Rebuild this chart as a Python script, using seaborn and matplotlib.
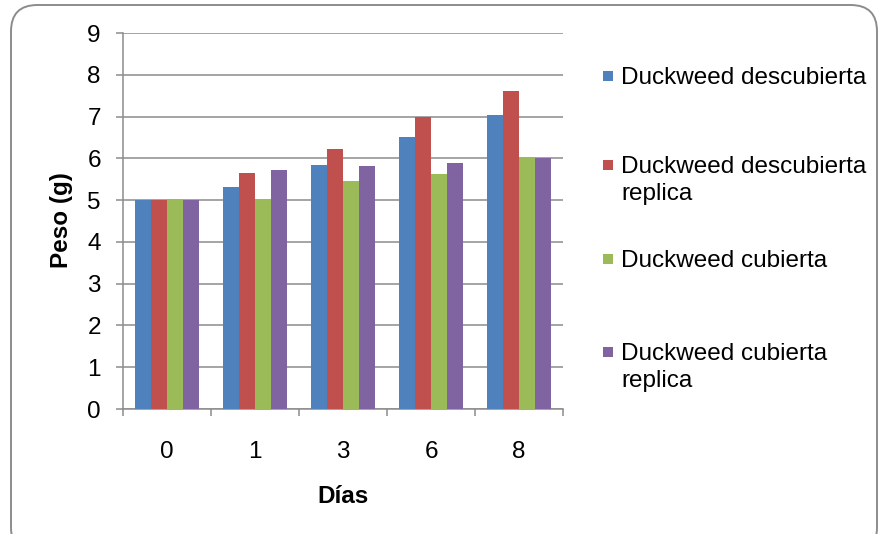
import matplotlib
matplotlib.use("Agg")
import matplotlib.pyplot as plt
from matplotlib.patches import FancyBboxPatch, Rectangle
import numpy as np
import pandas as pd
import seaborn as sns

# Weight of duckweed (g) measured on each sampling day
dias = ["0", "1", "3", "6", "8"]
descubierta = [5.0, 5.31, 5.85, 6.52, 7.03]
descubierta_replica = [5.0, 5.65, 6.22, 6.98, 7.60]
cubierta = [5.0, 5.02, 5.45, 5.62, 6.01]
cubierta_replica = [5.0, 5.71, 5.82, 5.90, 6.00]

series = ["Duckweed descubierta", "Duckweed descubierta\nreplica",
          "Duckweed cubierta", "Duckweed cubierta\nreplica"]
colores = ["#4F81BD", "#C0504D", "#9BBB59", "#8064A2"]
y_ticks = list(range(0, 10))

valores = [descubierta, descubierta_replica, cubierta, cubierta_replica]
df = pd.DataFrame(
    [(d, s, v) for s, vals in zip(series, valores) for d, v in zip(dias, vals)],
    columns=["Días", "Serie", "Peso"],
)

sns.set_theme(style="white")
plt.rcParams["font.family"] = ["Liberation Sans", "DejaVu Sans"]

FS = 17.5
W, H = 880, 534
fig = plt.figure(figsize=(W / 100, H / 100), dpi=100)
fig.patch.set_facecolor("white")

# rounded outer frame
frame = FancyBboxPatch((11 / W, -20 / H), (877 - 11) / W, (H - 5 + 20) / H,
                       boxstyle="round,pad=0,rounding_size=0.03",
                       transform=fig.transFigure, facecolor="none",
                       edgecolor="#8c8c8c", linewidth=1.4, zorder=-1,
                       mutation_aspect=W / H)
fig.patches.append(frame)

left, right, top, bottom = 123, 563, 33, 409
ax = fig.add_axes([left / W, (H - bottom) / H, (right - left) / W, (bottom - top) / H])
ax.set_facecolor("none")

sns.barplot(data=df, x="Días", y="Peso", hue="Serie", order=dias,
            hue_order=series, palette=colores, width=0.727, gap=0,
            saturation=1, linewidth=0, edgecolor="none", legend=False,
            errorbar=None, ax=ax, zorder=3)

ax.set_ylim(0, 9)
ax.set_xlim(-0.5, len(dias) - 0.5)
ax.set_yticks(y_ticks)
ax.set_yticklabels([str(t) for t in y_ticks])
ax.yaxis.grid(True, color="#8c8c8c", linewidth=1.1, zorder=0)
ax.set_axisbelow(True)

for side in ["top", "right"]:
    ax.spines[side].set_visible(False)
for side in ["left", "bottom"]:
    ax.spines[side].set_color("#8c8c8c")
    ax.spines[side].set_linewidth(1.1)

# x tick marks between categories, labels centered on categories
ax.set_xticks(np.arange(-0.5, len(dias), 1.0), minor=True)
ax.tick_params(axis="x", which="minor", length=5, width=1.1, color="#8c8c8c",
               direction="out", bottom=True)
ax.tick_params(axis="x", which="major", length=0, pad=23, labelsize=FS,
               labelcolor="black")
ax.tick_params(axis="y", which="major", length=5, width=1.1, color="#8c8c8c",
               direction="out", left=True, pad=11, labelsize=FS,
               labelcolor="black")

ax.set_xlabel("Días", fontsize=FS, fontweight="bold", color="black")
ax.set_ylabel("Peso (g)", fontsize=FS, fontweight="bold", color="black")
ax.xaxis.set_label_coords(0.5, -0.203)
ax.yaxis.set_label_coords(-0.114, 0.503)

# legend on the right
leg_y = [76, 165, 259, 352]
for lab, col, yc in zip(series, colores, leg_y):
    fig.patches.append(Rectangle((603 / W, (H - yc - 5) / H), 10 / W, 10 / H,
                                 transform=fig.transFigure, facecolor=col,
                                 edgecolor="none"))
    fig.text(621 / W, (H - yc + 9) / H, lab, fontsize=FS, color="black",
             ha="left", va="top", linespacing=1.3)

fig.savefig("out.png", dpi=100)
